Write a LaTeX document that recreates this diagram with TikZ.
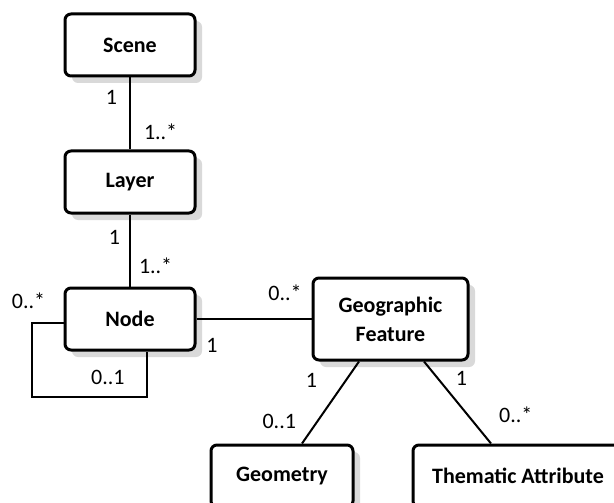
\documentclass[tikz,border=0pt]{standalone}
\usepackage{fontspec}
\setmainfont{Carlito}
\usetikzlibrary{positioning, shadows}

\begin{document}
\begin{tikzpicture}[x=0.5pt, y=-0.5pt, node distance=36pt, font=\fontsize{11}{14.5}\selectfont,
        block/.style={rectangle, draw, fill=white, line width=1.5pt, rounded corners=3pt, minimum width=65pt, minimum height=31pt, align=center, font=\fontsize{11}{14.5}\selectfont\bfseries, drop shadow={shadow xshift=3.5pt, shadow yshift=-3.5pt, fill=black!15, opacity=1}},
        line/.style={draw, line width=1pt},
        mult/.style={inner sep=2pt}]

    \path [use as bounding box, clip] (0,0) rectangle (614,502);

    \node [block] (scene) at (130,45) {Scene};
    \node [block, below=of scene] (layer) {Layer};
    \node [block, below=of layer] (nod) {Node};
    \node [block, right=57.5pt of nod, minimum width=77.5pt, minimum height=41pt] (geo) {Geographic\\Feature};
    \node [block, below=41pt of geo.south, xshift=-54.25pt, minimum width=71pt] (geom) {Geometry};
    \node [block, below=41pt of geo.south, xshift=63.75pt, minimum width=105pt] (thema) {Thematic Attribute};

    \path [line] (scene) -- node [mult, pos=.28, left=4pt] (m1) {1} node [mult, pos=.76, right=4.5pt] (m2) {1..*} (layer);
    \path [line] (layer) -- node [mult, pos=.32, left=2.5pt] (m3) {1} node [mult, pos=.71, right=2pt] (m4) {1..*} (nod);
    \path [line] (nod) -- node [mult, pos=.135, below=7pt] (m5) {1} node [mult, pos=.77, above=6.5pt] (m6) {0..*} (geo);

    % self association of Node
    \coordinate [below=22.5pt of nod.south, xshift=8.5pt] (loop);
    \path [line] ([yshift=-2pt]nod.west) -- ++(-16pt,0) |- (loop) -- (loop |- nod.south);
    \node [mult, anchor=south east] (m7) at ([xshift=-7pt, yshift=3pt]nod.west) {0..*};
    \node [mult, anchor=south east] (m8) at ([xshift=-9pt, yshift=3.5pt]loop) {0..1};

    \path [line] ([xshift=-15.75pt]geo.south) -- node [mult, pos=.235, left=11.8pt] (m9) {1} node [mult, pos=.73, left=8.2pt] (m10) {0..1} ([xshift=10pt]geom.north);
    \path [line] ([xshift=16.75pt]geo.south) -- node [mult, pos=.21, right=6.4pt] (m11) {1} node [mult, pos=.65, right=13.3pt] (m12) {0..*} ([xshift=-13.5pt]thema.north);
\end{tikzpicture}
\end{document}
